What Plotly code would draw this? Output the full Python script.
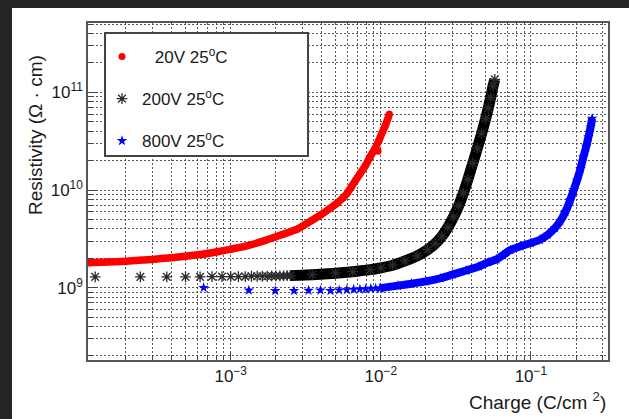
import plotly.graph_objects as go

# ---------------- data ----------------
# 20 V, 25 C  (charge in C/cm^2, resistivity in Ohm*cm)
red_x = [1.10e-4, 1.5e-4, 2.0e-4, 3.0e-4, 4.0e-4, 5.0e-4, 6.5e-4, 8.0e-4, 1.0e-3,
         1.3e-3, 1.7e-3, 2.2e-3, 2.75e-3, 3.4e-3, 4.0e-3, 4.6e-3, 5.2e-3, 5.6e-3,
         6.0e-3, 6.4e-3, 6.8e-3, 7.3e-3, 7.9e-3, 8.5e-3, 9.1e-3, 9.7e-3, 1.02e-2,
         1.07e-2, 1.11e-2, 1.14e-2]
red_y = [1.80e9, 1.83e9, 1.87e9, 1.95e9, 2.03e9, 2.10e9, 2.20e9, 2.32e9, 2.48e9,
         2.70e9, 3.05e9, 3.50e9, 3.95e9, 4.80e9, 5.60e9, 6.50e9, 7.50e9, 8.30e9,
         9.40e9, 1.09e10, 1.26e10, 1.48e10, 1.78e10, 2.20e10, 2.62e10, 3.20e10,
         3.85e10, 4.55e10, 5.30e10, 6.00e10]
red_extra_x = [9.6e-3]
red_extra_y = [2.5e10]

# 200 V, 25 C : early, well separated readings
black_sparse_x = [1.25e-4, 2.5e-4, 3.75e-4, 5.0e-4, 6.25e-4, 7.5e-4, 8.75e-4, 1.0e-3,
                  1.125e-3, 1.25e-3, 1.375e-3, 1.5e-3, 1.625e-3, 1.75e-3, 1.875e-3,
                  2.0e-3, 2.125e-3, 2.25e-3, 2.375e-3, 2.5e-3]
black_sparse_y = [1.29e9, 1.29e9, 1.29e9, 1.29e9, 1.29e9, 1.30e9, 1.30e9, 1.30e9,
                  1.30e9, 1.30e9, 1.31e9, 1.31e9, 1.31e9, 1.31e9, 1.32e9,
                  1.32e9, 1.32e9, 1.32e9, 1.33e9, 1.33e9]
# 200 V, 25 C : dense part
black_x = [2.5e-3, 3.5e-3, 5.0e-3, 6.5e-3, 8.5e-3, 1.0e-2, 1.2e-2, 1.45e-2, 1.75e-2,
           2.05e-2, 2.3e-2, 2.55e-2, 2.8e-2, 3.05e-2, 3.3e-2, 3.55e-2, 3.8e-2, 4.1e-2,
           4.4e-2, 4.7e-2, 5.0e-2, 5.2e-2, 5.4e-2, 5.6e-2, 5.75e-2]
black_y = [1.33e9, 1.36e9, 1.41e9, 1.46e9, 1.53e9, 1.60e9, 1.70e9, 1.88e9, 2.12e9,
           2.45e9, 2.82e9, 3.35e9, 4.15e9, 5.30e9, 6.90e9, 9.30e9, 1.28e10, 1.88e10,
           2.68e10, 3.80e10, 5.40e10, 6.90e10, 8.90e10, 1.16e11, 1.36e11]

# 800 V, 25 C : early, well separated readings
blue_sparse_x = [6.6e-4, 1.32e-3, 1.98e-3, 2.64e-3, 3.30e-3, 3.96e-3, 4.62e-3, 5.28e-3,
                 5.94e-3, 6.60e-3, 7.26e-3, 7.92e-3, 8.58e-3, 9.24e-3, 9.90e-3]
blue_sparse_y = [1.00e9, 0.94e9, 0.93e9, 0.93e9, 0.935e9, 0.94e9, 0.93e9, 0.945e9,
                 0.95e9, 0.96e9, 0.965e9, 0.97e9, 0.98e9, 0.985e9, 0.99e9]
# 800 V, 25 C : dense part
blue_x = [9.9e-3, 1.3e-2, 1.6e-2, 2.0e-2, 2.5e-2, 3.0e-2, 3.7e-2, 4.5e-2, 5.2e-2,
          5.9e-2, 6.5e-2, 7.3e-2, 8.5e-2, 0.100, 0.115, 0.130, 0.145, 0.157, 0.170,
          0.183, 0.193, 0.203, 0.214, 0.224, 0.234, 0.242, 0.250, 0.256]
blue_y = [0.99e9, 1.05e9, 1.10e9, 1.16e9, 1.25e9, 1.36e9, 1.50e9, 1.65e9, 1.82e9,
          1.95e9, 2.15e9, 2.43e9, 2.65e9, 2.87e9, 3.10e9, 3.50e9, 4.10e9, 4.80e9,
          6.00e9, 7.90e9, 1.00e10, 1.26e10, 1.65e10, 2.19e10, 2.80e10, 3.50e10,
          4.40e10, 5.40e10]

series_names = ["\u00a0\u00a0\u2009" + "20V 25<sup>o</sup>C", "200V 25<sup>o</sup>C", "800V 25<sup>o</sup>C"]

x_ticks = [1e-3, 1e-2, 1e-1]
x_ticktext = ["10<sup>\u22123</sup>", "10<sup>\u22122</sup>", "10<sup>\u22121</sup>"]
y_ticks = [1e9, 1e10, 1e11]
y_ticktext = ["10<sup>9</sup>", "10<sup>10</sup>", "10<sup>11</sup>"]

# ---------------- layout geometry ----------------
W, H = 629, 419
L, R, T, B = 88, 21, 23, 59
PW, PH = W - L - R, H - T - B


def px_x(px):
    return (px - L) / PW


def px_y(py):
    return (H - B - py) / PH


FONT = "Liberation Sans, Arial, Helvetica, sans-serif"
TXT = "#1a1a1a"

fig = go.Figure()

# red: thick band + markers
fig.add_trace(go.Scatter(x=red_x, y=red_y, mode="lines",
                         line=dict(color="#ff0000", width=7.5, shape="spline", smoothing=0.6),
                         showlegend=False, hoverinfo="skip"))
fig.add_trace(go.Scatter(x=red_x + red_extra_x, y=red_y + red_extra_y, mode="markers",
                         marker=dict(symbol="circle", size=7, color="#ff0000"),
                         name=series_names[0], legendgroup="a"))

# black
fig.add_trace(go.Scatter(x=black_x, y=black_y, mode="lines",
                         line=dict(color="#000000", width=11, shape="spline", smoothing=0.6),
                         showlegend=False, hoverinfo="skip"))
fig.add_trace(go.Scatter(x=black_sparse_x + black_x, y=black_sparse_y + black_y, mode="markers",
                         marker=dict(symbol="asterisk-open", size=9, color="#2a2a2a",
                                     line=dict(color="#2a2a2a", width=1.3)),
                         name=series_names[1], legendgroup="b"))

# blue
fig.add_trace(go.Scatter(x=blue_x, y=blue_y, mode="lines",
                         line=dict(color="#0000ff", width=8, shape="spline", smoothing=0.6),
                         showlegend=False, hoverinfo="skip"))
fig.add_trace(go.Scatter(x=blue_sparse_x + blue_x, y=blue_sparse_y + blue_y, mode="markers",
                         marker=dict(symbol="star", size=8, color="#0000ff"),
                         name=series_names[2], legendgroup="c"))

grid_common = dict(showgrid=True, gridcolor="#555555", gridwidth=1, griddash="2px,2px")

fig.update_xaxes(type="log", range=[-3.951, -0.486],
                 tickvals=x_ticks, ticktext=x_ticktext,
                 ticks="inside", ticklen=9, tickcolor="#444444",
                 showline=True, linecolor="#555555", linewidth=1.5, mirror=True,
                 tickfont=dict(size=17, color=TXT, family=FONT),
                 zeroline=False,
                 minor=dict(dtick="D1", ticks="inside", ticklen=5, tickcolor="#444444",
                            **grid_common),
                 **grid_common)
fig.update_yaxes(type="log", range=[8.26, 11.71],
                 tickvals=y_ticks, ticktext=y_ticktext,
                 ticks="inside", ticklen=9, tickcolor="#444444",
                 showline=True, linecolor="#555555", linewidth=1.5, mirror=True,
                 tickfont=dict(size=17, color=TXT, family=FONT),
                 zeroline=False,
                 minor=dict(dtick="D1", ticks="inside", ticklen=5, tickcolor="#444444",
                            **grid_common),
                 **grid_common)

shapes = [
    # dark surround at the left and top edges
    dict(type="rect", xref="paper", yref="paper", layer="below",
         x0=px_x(0), x1=px_x(12), y0=px_y(H), y1=px_y(0),
         fillcolor="#242424", line=dict(width=0)),
    dict(type="rect", xref="paper", yref="paper", layer="below",
         x0=px_x(0), x1=px_x(W), y0=px_y(8), y1=px_y(0),
         fillcolor="#242424", line=dict(width=0)),
    # legend frame
    dict(type="rect", xref="paper", yref="paper", layer="above",
         x0=px_x(105), x1=px_x(308), y0=px_y(156), y1=px_y(33),
         fillcolor="#ffffff", line=dict(color="#444444", width=2)),
]

annotations = [
    dict(text="Charge (C/cm <sup>2</sup>)", xref="paper", yref="paper",
         x=px_x(608), y=px_y(401), xanchor="right", yanchor="middle", showarrow=False,
         font=dict(size=19, color=TXT, family=FONT)),
    dict(text="Resistivity (\u03a9 \u00b7 cm)", xref="paper", yref="paper", textangle=-90,
         x=px_x(35), y=px_y(135), xanchor="center", yanchor="middle", showarrow=False,
         font=dict(size=19, color=TXT, family=FONT)),
]

fig.update_layout(
    width=W, height=H,
    margin=dict(l=L, r=R, t=T, b=B, pad=0),
    paper_bgcolor="#ffffff", plot_bgcolor="#ffffff",
    font=dict(family=FONT, color=TXT),
    shapes=shapes, annotations=annotations,
    legend=dict(x=px_x(102), y=px_y(39), xanchor="left", yanchor="top",
                bgcolor="rgba(0,0,0,0)", borderwidth=0,
                font=dict(size=17, color=TXT, family=FONT),
                tracegroupgap=17, itemsizing="trace"),
)

fig.write_html("out.html")
